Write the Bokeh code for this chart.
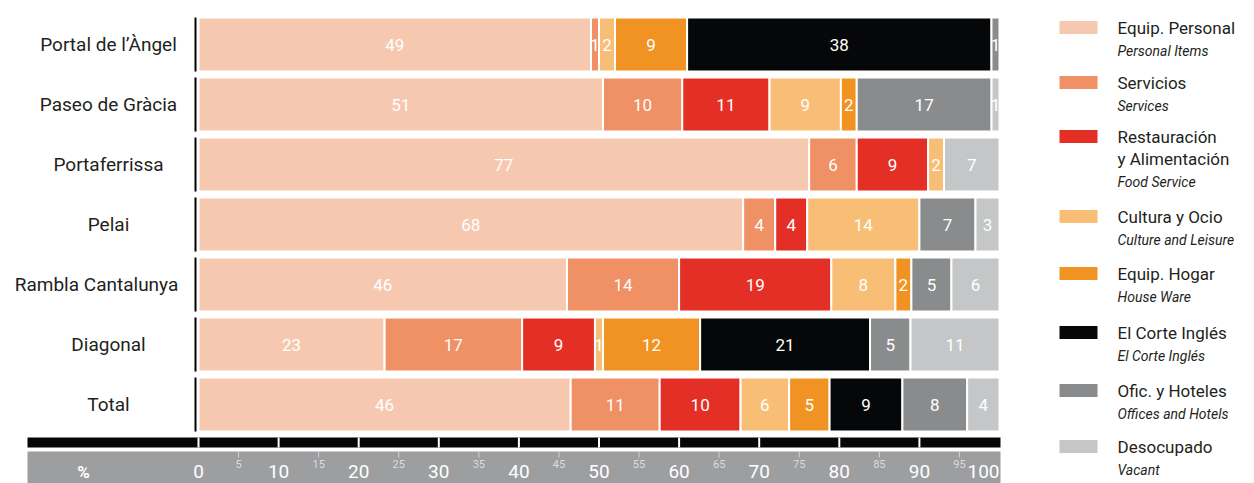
import numpy as np
from bokeh.plotting import figure
from bokeh.models import Range1d, ColumnDataSource
from bokeh.core.properties import value
from bokeh.embed import file_html
from bokeh.resources import INLINE

# ---------------- data ----------------
streets = ["Portal de l\u2019\u00c0ngel", "Paseo de Gr\u00e0cia", "Portaferrissa", "Pelai",
           "Rambla Cantalunya", "Diagonal", "Total"]
personal = [49, 51, 77, 68, 46, 23, 46]
services = [1, 10, 6, 4, 14, 17, 11]
food = [0, 11, 9, 4, 19, 9, 10]
culture = [2, 9, 2, 14, 8, 1, 6]
house = [9, 2, 0, 0, 2, 12, 5]
eci = [38, 0, 0, 0, 0, 21, 9]
offices = [1, 17, 0, 7, 5, 5, 8]
vacant = [0, 1, 7, 3, 6, 11, 4]

legend_es = ["Equip. Personal", "Servicios", "Restauraci\u00f3n\ny Alimentaci\u00f3n", "Cultura y Ocio",
             "Equip. Hogar", "El Corte Ingl\u00e9s", "Ofic. y Hoteles", "Desocupado"]
legend_en = ["Personal Items", "Services", "Food Service", "Culture and Leisure",
             "House Ware", "El Corte Ingl\u00e9s", "Offices and Hotels", "Vacant"]
major_ticks = [0, 10, 20, 30, 40, 50, 60, 70, 80, 90, 100]
minor_ticks = [5, 15, 25, 35, 45, 55, 65, 75, 85, 95]

colors = ["#f7c8b0", "#f09065", "#e32f26", "#f8be76", "#f19322", "#060708", "#8a8b8c", "#c5c6c7"]
FONT = "Roboto"
TXT = "#231f20"

# ---------------- layout helpers (pixel -> data) ----------------
W, H = 1254, 483
X0, PXU = 198.0, 8.01
ROW0, ROWSTEP = 44.0, 60.0


def px_x(px):
    return (px - X0) / PXU


def px_y(py):
    return (py - ROW0) / ROWSTEP


p = figure(width=W, height=H, x_range=Range1d(px_x(0), px_x(W)),
           y_range=Range1d(px_y(H), px_y(0)), output_backend="svg",
           toolbar_location=None, x_axis_location=None, y_axis_location=None,
           min_border=0, outline_line_color=None)
p.grid.visible = False
p.background_fill_color = "white"
p.border_fill_color = "white"

# ---------------- bars ----------------
series = [personal, services, food, culture, house, eci, offices, vacant]
vals = np.array(series, dtype=float)
totals = vals.sum(axis=0)
widths = vals / totals * 100.0
rights = np.cumsum(widths, axis=0)
lefts = rights - widths
rows = np.arange(len(streets))

for k in range(len(series)):
    mask = vals[k] > 0
    src = ColumnDataSource(dict(
        y=rows[mask], left=lefts[k][mask], right=rights[k][mask],
        cx=((lefts[k] + rights[k]) / 2)[mask],
        lab=[str(int(v)) for v in vals[k][mask]]))
    p.hbar(y="y", left="left", right="right", height=0.9, source=src,
           fill_color=colors[k], line_color="white", line_width=2)
    p.text(x="cx", y="y", text="lab", source=src, text_color="white",
           text_font=value(FONT), text_font_size="17px",
           text_align="center", text_baseline="middle")

# left black rules per row
p.segment(x0=[px_x(195)] * len(rows), x1=[px_x(195)] * len(rows),
          y0=rows - 0.45, y1=rows + 0.45, line_color="black", line_width=2)

# row labels
label_cx = [108, 108, 108, 108, 96, 108, 108]
p.text(x=[px_x(c) for c in label_cx], y=rows, text=streets, text_color=TXT,
       text_font=value(FONT), text_font_size="19px",
       text_align="center", text_baseline="middle")

# ---------------- bottom axis ----------------
p.quad(left=[px_x(27)], right=[100 + 1 / PXU], top=[px_y(437)], bottom=[px_y(447)],
       fill_color="#060606", line_color=None)
p.segment(x0=major_ticks[:-1], x1=major_ticks[:-1],
          y0=[px_y(437)] * 10, y1=[px_y(447)] * 10, line_color="white", line_width=2)
p.quad(left=[px_x(27)], right=[100 + 1 / PXU], top=[px_y(451)], bottom=[px_y(490)],
       fill_color="#9d9e9f", line_color=None)
p.segment(x0=minor_ticks, x1=minor_ticks, y0=[px_y(451)] * len(minor_ticks),
          y1=[px_y(457)] * len(minor_ticks), line_color="#d4d4d4", line_width=1)
p.text(x=minor_ticks, y=[px_y(463)] * len(minor_ticks), text=[str(t) for t in minor_ticks],
       text_color="#dcdcdc", text_font=value(FONT), text_font_size="11px",
       text_align="center", text_baseline="middle")
maj_src = ColumnDataSource(dict(
    x=[px_x(999) if t == 100 else t for t in major_ticks],
    y=[px_y(471)] * len(major_ticks), t=[str(t) for t in major_ticks],
    al=["right" if t == 100 else "center" for t in major_ticks]))
p.text(x="x", y="y", text="t", text_align="al", source=maj_src, text_color="white",
       text_font=value(FONT), text_font_size="19px", text_baseline="middle")
p.text(x=[px_x(83)], y=[px_y(471)], text=["%"], text_color="white",
       text_font=value(FONT), text_font_size="17px", text_font_style="bold",
       text_align="center", text_baseline="middle")

# ---------------- legend ----------------
legend_top = [27, 82, 136, 216, 273, 332, 390, 446]
sw_src = ColumnDataSource(dict(
    left=[px_x(1059)] * 8, right=[px_x(1097)] * 8,
    top=[px_y(t - 6.5) for t in legend_top], bottom=[px_y(t + 6.5) for t in legend_top],
    c=colors))
p.quad(left="left", right="right", top="top", bottom="bottom", fill_color="c",
       line_color=None, source=sw_src)
mx, my, ex, ey = [], [], [], []
for es, en, top in zip(legend_es, legend_en, legend_top):
    lines = es.split("\n")
    for i, ln in enumerate(lines):
        mx.append(ln)
        my.append(px_y(top + 22.5 * i))
    ex.append(en)
    ey.append(px_y(top + 22.5 * (len(lines) - 1) + 23))
p.text(x=[px_x(1117)] * len(mx), y=my, text=mx, text_color=TXT,
       text_font=value(FONT), text_font_size="17px",
       text_align="left", text_baseline="middle")
p.text(x=[px_x(1117)] * len(ex), y=ey, text=ex, text_color=TXT,
       text_font=value(FONT), text_font_size="14px", text_font_style="italic",
       text_align="left", text_baseline="middle")

open("out.html", "w").write(file_html(p, INLINE))
